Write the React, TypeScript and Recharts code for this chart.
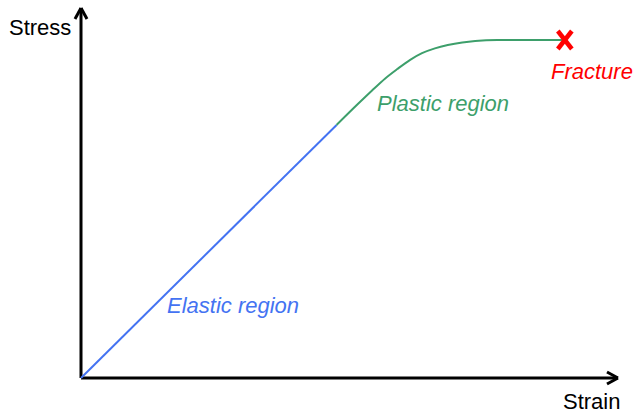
import {
  ComposedChart,
  Line,
  Scatter,
  XAxis,
  YAxis,
  ReferenceLine,
} from "recharts";

// stress-strain curve (arbitrary units 0..100)
const elasticStrain = [0, 47.6];
const elasticStress = [0, 68.4];

const plasticStrain = [47.6, 51.6, 54.2, 56.6, 58.9, 61.3, 63.5, 65.9, 68.3, 71.0, 73.4, 77.5, 90.1];
const plasticStress = [68.4, 74.1, 77.7, 80.9, 83.5, 86.0, 87.8, 89.1, 90.0, 90.7, 91.1, 91.35, 91.35];

const fractureStrain = [90.1];
const fractureStress = [91.35];

const axisMax = 100;

const elasticData = elasticStrain.map((s, i) => ({ strain: s, stress: elasticStress[i] }));
const plasticData = plasticStrain.map((s, i) => ({ strain: s, stress: plasticStress[i] }));
const fractureData = fractureStrain.map((s, i) => ({ strain: s, stress: fractureStress[i] }));

const BLUE = "#4473f2";
const GREEN = "#3d9f6b";
const RED = "#ff0000";

const font = "'Liberation Sans', Arial, sans-serif";

function FractureMark(props: any) {
  const { cx, cy } = props;
  const dx = 7, dy = 9;
  return (
    <g stroke={RED} strokeWidth={4.5} strokeLinecap="butt">
      <line x1={cx - dx} y1={cy - dy} x2={cx + dx} y2={cy + dy} />
      <line x1={cx + dx} y1={cy - dy} x2={cx - dx} y2={cy + dy} />
    </g>
  );
}

export default function App() {
  // arrow wing sizes in data units
  const xw = 2.05, xh = 1.62;
  const yw = 1.12, yh = 2.97;

  const axisProps = { stroke: "#000", strokeWidth: 3, ifOverflow: "visible" as const };

  return (
    <div style={{ position: "absolute", left: 0, top: 0, width: 640, height: 416, background: "#fff" }}>
      <ComposedChart
        width={640}
        height={416}
        margin={{ top: 8, right: 22, bottom: 38, left: 81 }}
      >
        <XAxis type="number" dataKey="strain" domain={[0, axisMax]} hide />
        <YAxis type="number" dataKey="stress" domain={[0, axisMax]} hide />

        <ReferenceLine segment={[{ x: 0, y: 0 }, { x: axisMax, y: 0 }]} {...axisProps} />
        <ReferenceLine segment={[{ x: axisMax - xw, y: xh }, { x: axisMax, y: 0 }]} {...axisProps} />
        <ReferenceLine segment={[{ x: axisMax - xw, y: -xh }, { x: axisMax, y: 0 }]} {...axisProps} />
        <ReferenceLine segment={[{ x: 0, y: 0 }, { x: 0, y: axisMax }]} {...axisProps} />
        <ReferenceLine segment={[{ x: -yw, y: axisMax - yh }, { x: 0, y: axisMax }]} {...axisProps} />
        <ReferenceLine segment={[{ x: yw, y: axisMax - yh }, { x: 0, y: axisMax }]} {...axisProps} />

        <Line
          data={elasticData}
          dataKey="stress"
          type="linear"
          stroke={BLUE}
          strokeWidth={2}
          dot={false}
          isAnimationActive={false}
        />
        <Line
          data={plasticData}
          dataKey="stress"
          type="monotone"
          stroke={GREEN}
          strokeWidth={2}
          dot={false}
          isAnimationActive={false}
        />
        <Scatter
          data={fractureData}
          dataKey="stress"
          shape={<FractureMark />}
          isAnimationActive={false}
        />

        <text x={9} y={35} fontFamily={font} fontSize={22} fill="#000">Stress</text>
        <text x={563} y={409} fontFamily={font} fontSize={22} fill="#000">Strain</text>
        <text x={167} y={313} fontFamily={font} fontSize={22} fontStyle="italic" fill={BLUE}>Elastic region</text>
        <text x={377} y={111} fontFamily={font} fontSize={22} fontStyle="italic" fill={GREEN}>Plastic region</text>
        <text x={551} y={79} fontFamily={font} fontSize={22} fontStyle="italic" fill={RED}>Fracture</text>
      </ComposedChart>
    </div>
  );
}
